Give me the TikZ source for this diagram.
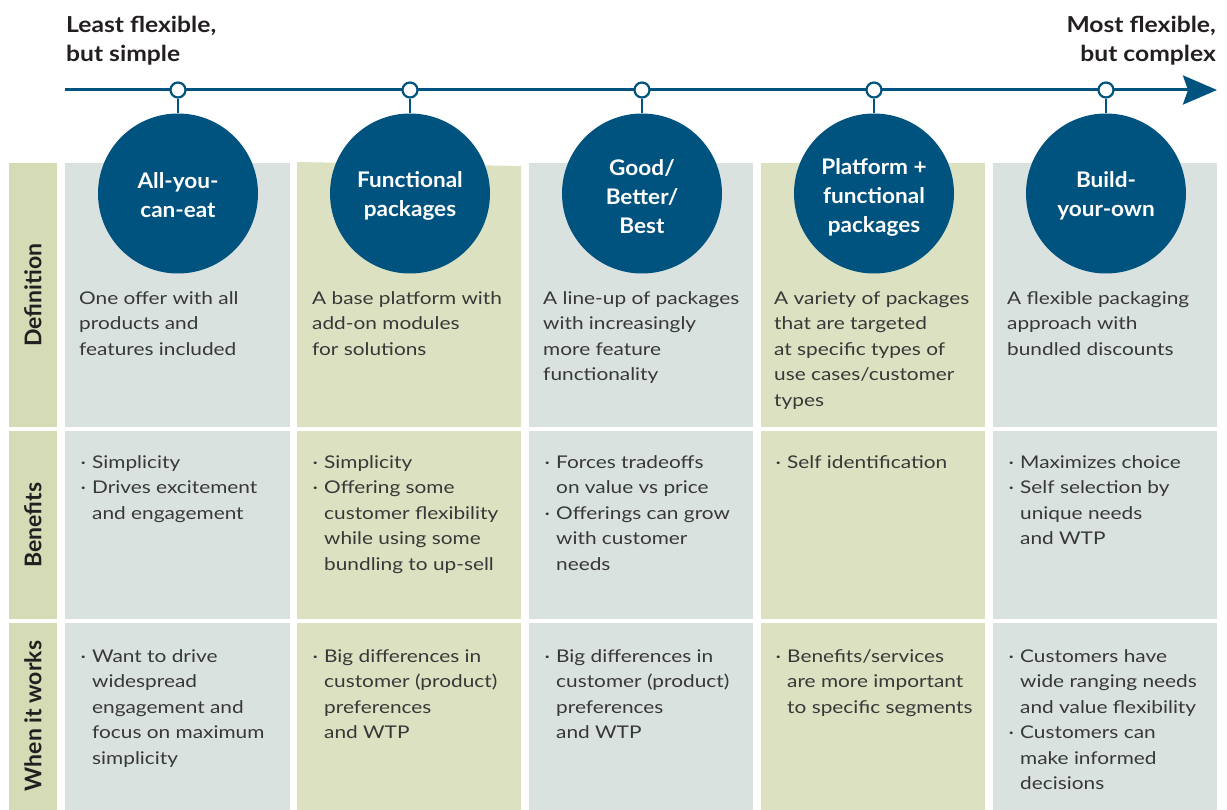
\documentclass[tikz,border=0pt]{standalone}
\usepackage{fontspec}
\setmainfont{Lato}
\newfontfamily\bodyfont{Lato}[FakeStretch=1.19]
\newfontfamily\headfont{Lato}[FakeStretch=1.12]
\newfontfamily\circfont{Lato}[FakeStretch=1.05]
\usetikzlibrary{arrows.meta}
\definecolor{navy}{HTML}{00527F}
\definecolor{cellA}{HTML}{DAE2DF}
\definecolor{cellB}{HTML}{DCE2C1}
\definecolor{labfill}{HTML}{D4DBB5}
\definecolor{ink}{HTML}{383838}
\definecolor{headink}{HTML}{231F20}
\newcommand\bul{\makebox[13pt][l]{\hspace{1.5pt}·}}
\newcommand\ind{\hspace*{13pt}}
\begin{document}
\begin{tikzpicture}[x=1pt,y=-1pt,
 bigc/.style={circle,fill=navy,minimum size=160pt,inner sep=0pt},
 circtext/.style={inner sep=0pt,text=white,align=center,font=\circfont\bfseries\fontsize{21.5}{29}\selectfont},
 dotc/.style={circle,draw=navy,fill=white,line width=2.2pt,minimum size=15pt,inner sep=0pt},
 stem/.style={draw=navy,line width=2.5pt},
 celltext/.style={anchor=north west,inner sep=0pt,align=left,text=ink,font=\bodyfont\fontsize{17.5}{25.5}\selectfont},
 rowlab/.style={rotate=90,inner sep=0pt,text=headink,font=\bfseries\fontsize{23}{28}\selectfont},
 head/.style={inner sep=0pt,text=headink,font=\headfont\bfseries\fontsize{22}{29}\selectfont},
]
\useasboundingbox (0,0) rectangle (1227,810);
% label column
\fill[labfill] (9,163) rectangle (57,427);
\fill[labfill] (9,431) rectangle (57,619);
\fill[labfill] (9,623) rectangle (57,810);
% columns
\foreach \xl/\xr/\c in {65/290/cellA,529/753/cellA,761/985/cellB,993/1217/cellA}{
  \fill[\c] (\xl,163) rectangle (\xr,427);
  \fill[\c] (\xl,431) rectangle (\xr,619);
  \fill[\c] (\xl,623) rectangle (\xr,810);
}
\fill[cellB] (297,162) -- (521,166) -- (521,427) -- (297,427) -- cycle;
\fill[cellB] (297,431) rectangle (521,619);
\fill[cellB] (297,623) rectangle (521,810);
% row labels
\node[rowlab] (lDef) at (33,295) {Definition};
\node[rowlab] (lBen) at (33,525) {Benefits};
\node[rowlab] (lWhen) at (33,716) {When it works};
% headings
\node[head,anchor=north west,align=left] (hL) at (66,11.7) {\strut Least flexible,\\but simple};
\node[head,anchor=north east,align=right] (hR) at (1216,11.7) {\strut Most flexible,\\but complex};
% axis
\coordinate (a0) at (65,90);
\coordinate (a1) at (1217,90);
\draw[navy,line width=3pt,-{Stealth[length=34pt,width=29pt,inset=5pt]}] (a0) -- (a1);
% big circles
\foreach \i/\x in {1/178,2/410,3/642,4/874,5/1106}{
  \node[bigc] (c\i) at (\x,193.5) {};
}
\node[circtext] (c1t) at (178,195.5) {All-you-\\can-eat};
\node[circtext] (c2t) at (410,195.5) {Functional\\packages};
\node[circtext] (c3t) at (642,197) {Good/\\Better/\\Best};
\node[circtext] (c4t) at (874,197) {Platform +\\functional\\packages};
\node[circtext] (c5t) at (1106,195.5) {Build-\\your-own};
% dots and stems
\foreach \i/\x in {1/178,2/410,3/642,4/874,5/1106}{
  \node[dotc] (d\i) at (\x,90) {};
  \draw[stem] (d\i) -- (c\i);
}
% definitions
\node[celltext] (t11) at (79,286) {\strut One offer with all\\products and\\features included};
\node[celltext] (t21) at (312,286) {\strut A base platform with\\add-on modules\\for solutions};
\node[celltext] (t31) at (543,286) {\strut A line-up of packages\\with increasingly\\more feature\\functionality};
\node[celltext] (t41) at (774,286) {\strut A variety of packages\\that are targeted\\at specific types of\\use cases/customer\\types};
\node[celltext] (t51) at (1007,286) {\strut A flexible packaging\\approach with\\bundled discounts};
% benefits
\node[celltext] (t12) at (79,450) {\strut\bul Simplicity\\\bul Drives excitement\\\ind and engagement};
\node[celltext] (t22) at (311,450) {\strut\bul Simplicity\\\bul Offering some\\\ind customer flexibility\\\ind while using some\\\ind bundling to up-sell};
\node[celltext] (t32) at (543,450) {\strut\bul Forces tradeoffs\\\ind on value vs price\\\bul Offerings can grow\\\ind with customer\\\ind needs};
\node[celltext] (t42) at (774,450) {\strut\bul Self identification};
\node[celltext] (t52) at (1007,450) {\strut\bul Maximizes choice\\\bul Self selection by\\\ind unique needs\\\ind and WTP};
% when it works
\node[celltext] (t13) at (79,644) {\strut\bul Want to drive\\\ind widespread\\\ind engagement and\\\ind focus on maximum\\\ind simplicity};
\node[celltext] (t23) at (311,644) {\strut\bul Big differences in\\\ind customer (product)\\\ind preferences\\\ind and WTP};
\node[celltext] (t33) at (543,644) {\strut\bul Big differences in\\\ind customer (product)\\\ind preferences\\\ind and WTP};
\node[celltext] (t43) at (774,644) {\strut\bul Benefits/services\\\ind are more important\\\ind to specific segments};
\node[celltext] (t53) at (1007,644) {\strut\bul Customers have\\\ind wide ranging needs\\\ind and value flexibility\\\bul Customers can\\\ind make informed\\\ind decisions};
\end{tikzpicture}
\end{document}
